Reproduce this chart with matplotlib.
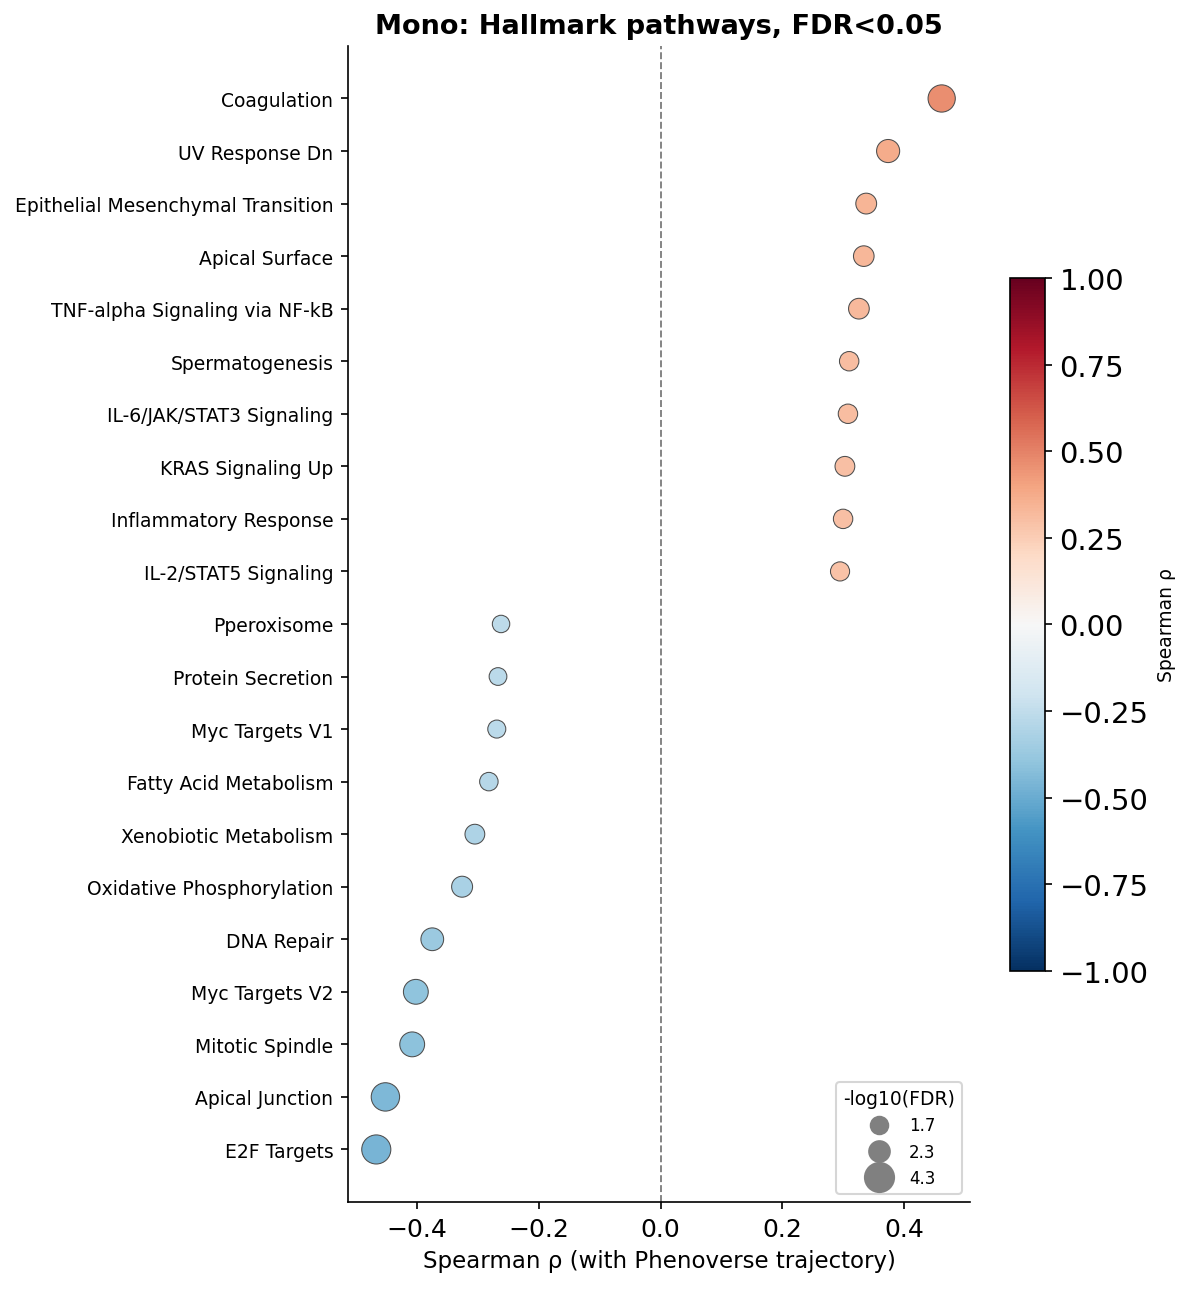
import numpy as np
import matplotlib
matplotlib.use("Agg")
import matplotlib.pyplot as plt
from matplotlib.lines import Line2D

# pathways, top to bottom
pathways = ["Coagulation", "UV Response Dn", "Epithelial Mesenchymal Transition",
            "Apical Surface", "TNF-alpha Signaling via NF-kB", "Spermatogenesis",
            "IL-6/JAK/STAT3 Signaling", "KRAS Signaling Up", "Inflammatory Response",
            "IL-2/STAT5 Signaling", "Pperoxisome", "Protein Secretion", "Myc Targets V1",
            "Fatty Acid Metabolism", "Xenobiotic Metabolism", "Oxidative Phosphorylation",
            "DNA Repair", "Myc Targets V2", "Mitotic Spindle", "Apical Junction", "E2F Targets"]
rho = [0.462, 0.374, 0.338, 0.334, 0.326, 0.310, 0.308, 0.303, 0.300, 0.295,
       -0.262, -0.267, -0.269, -0.282, -0.305, -0.326, -0.375, -0.402, -0.408, -0.452, -0.467]
nlogfdr = [3.8, 2.8, 2.32, 2.28, 2.3, 2.05, 2.05, 2.12, 2.05, 2.0,
           1.7, 1.75, 1.8, 1.88, 2.12, 2.35, 2.72, 3.2, 3.2, 4.1, 4.3]

def size_of(v):
    return 70 + (v - 1.7) * (195 - 70) / (4.3 - 1.7)

fig = plt.figure(figsize=(1191/150, 1293/150), dpi=150)
ax = fig.add_axes([0.2922, 0.0696, 0.5222, 0.8941])
cax = fig.add_axes([0.848, 0.2483, 0.0294, 0.536])

y = np.arange(len(pathways))[::-1]
sc = ax.scatter(rho, y, s=[size_of(v) for v in nlogfdr], c=rho, cmap="RdBu_r",
                vmin=-1, vmax=1, edgecolors="0.3", linewidths=0.5, zorder=3)
ax.axvline(0, color="gray", ls="--", lw=0.9, zorder=1)
ax.set_yticks(y)
ax.set_yticklabels(pathways, fontsize=9)
ax.set_ylim(-1, len(pathways))
ax.tick_params(axis="x", labelsize=12)
ax.set_xlabel("Spearman ρ (with Phenoverse trajectory)", fontsize=11)
ax.set_title("Mono: Hallmark pathways, FDR<0.05", fontsize=13, fontweight="bold")
ax.spines["top"].set_visible(False)
ax.spines["right"].set_visible(False)

cb = fig.colorbar(sc, cax=cax)
cb.set_ticks([-1, -0.75, -0.5, -0.25, 0, 0.25, 0.5, 0.75, 1])
cb.ax.tick_params(labelsize=14)
cb.set_label("Spearman ρ", fontsize=9)

leg_vals = [min(nlogfdr), float(np.median(nlogfdr)), max(nlogfdr)]
handles = [Line2D([], [], ls="", marker="o", color="gray",
                  markersize=np.sqrt(size_of(v)), label=f"{v:.1f}") for v in leg_vals]
ax.legend(handles=handles, title="-log10(FDR)", loc="lower right", fontsize=8,
          title_fontsize=9, frameon=True)

fig.savefig("out.png", dpi=150)
